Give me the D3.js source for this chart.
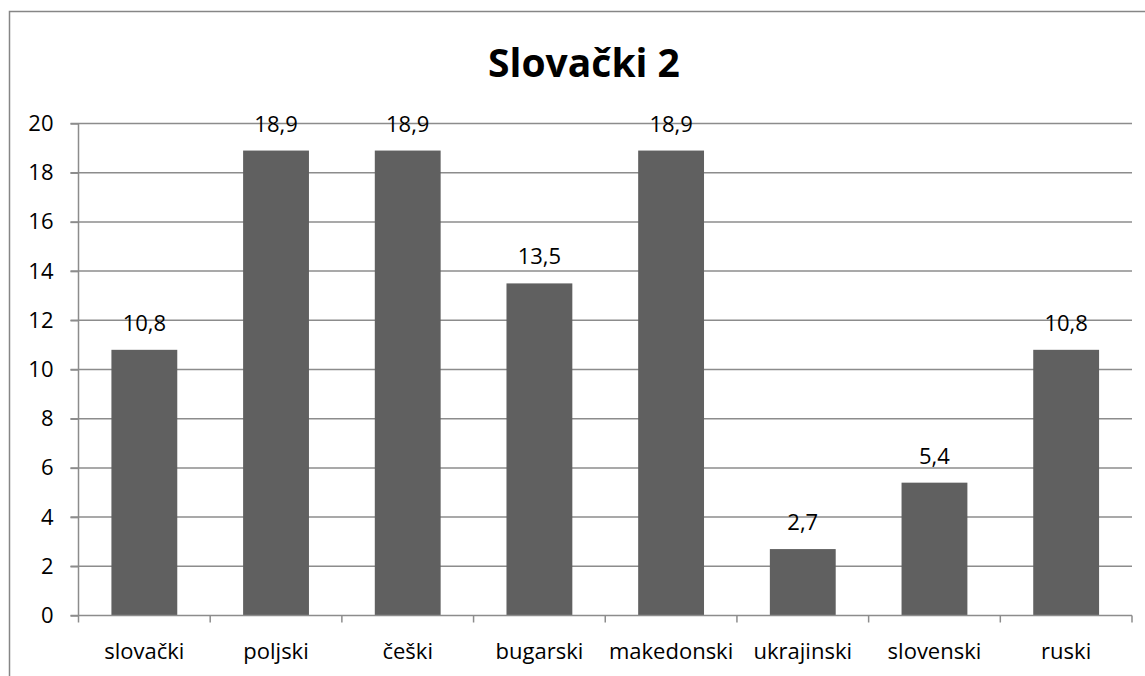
<!DOCTYPE html>
<html>
<head>
<meta charset="utf-8">
<script src="https://cdn.jsdelivr.net/npm/d3@7"></script>
<style>
  body { margin: 0; background: #fff; }
  text { font-family: "Open Sans", "Noto Sans", sans-serif; fill: #000; }
</style>
</head>
<body>
<svg width="1145" height="676"></svg>
<script>
var categories = ["slovački", "poljski", "češki", "bugarski", "makedonski", "ukrajinski", "slovenski", "ruski"];
var values = [10.8, 18.9, 18.9, 13.5, 18.9, 2.7, 5.4, 10.8];
var yTicks = [0, 2, 4, 6, 8, 10, 12, 14, 16, 18, 20];
var title = "Slovački 2";

var svg = d3.select("svg"),
    margin = {top: 123.5, right: 13, bottom: 60.5, left: 78.5},
    width = +svg.attr("width") - margin.left - margin.right,
    height = +svg.attr("height") - margin.top - margin.bottom;

// chart frame (right and bottom edges fall outside the picture)
svg.append("rect")
    .attr("x", 9.5).attr("y", 11.5)
    .attr("width", 1200).attr("height", 700)
    .attr("fill", "none")
    .attr("stroke", "#868686")
    .attr("stroke-width", 1.5);

svg.append("text")
    .attr("x", 584).attr("y", 77)
    .attr("text-anchor", "middle")
    .style("font-size", "39px")
    .style("font-weight", "bold")
    .text(title);

var g = svg.append("g").attr("transform", "translate(" + margin.left + "," + margin.top + ")");

var x = d3.scaleBand()
    .domain(categories)
    .range([0, width])
    .paddingInner(0.5)
    .paddingOuter(0.25);

var xb = d3.scaleBand().domain(categories).range([0, width]);

var y = d3.scaleLinear()
    .domain([0, 20])
    .range([height, 0]);

// gridlines
g.selectAll(".grid")
  .data(yTicks.slice(1))
  .enter().append("line")
    .attr("class", "grid")
    .attr("x1", -8).attr("x2", width)
    .attr("y1", function(d) { return y(d); })
    .attr("y2", function(d) { return y(d); })
    .attr("stroke", "#8c8c8c")
    .attr("stroke-width", 1.5);

g.selectAll(".bar")
  .data(values)
  .enter().append("rect")
    .attr("class", "bar")
    .attr("x", function(d, i) { return x(categories[i]); })
    .attr("y", function(d) { return y(d); })
    .attr("width", x.bandwidth())
    .attr("height", function(d) { return height - y(d); })
    .attr("fill", "#606060");

g.selectAll(".val")
  .data(values)
  .enter().append("text")
    .attr("class", "val")
    .attr("x", function(d, i) { return x(categories[i]) + x.bandwidth() / 2; })
    .attr("y", function(d) { return y(d) - 19; })
    .attr("text-anchor", "middle")
    .style("font-size", "22px")
    .text(function(d) { return String(d).replace(".", ","); });

// y axis
var yAxis = g.append("g")
    .call(d3.axisLeft(y).tickValues(yTicks).tickSize(8).tickPadding(17).tickFormat(d3.format("d")));
yAxis.select(".domain").attr("stroke", "#8c8c8c").attr("stroke-width", 1.5).attr("d", "M0," + height + "V0");
yAxis.selectAll(".tick line").attr("stroke", "#8c8c8c").attr("stroke-width", 1.5);
yAxis.selectAll("text").style("font-size", "22px").attr("fill", "#000")
    .style("font-family", "'Open Sans', 'Noto Sans', sans-serif");

// x axis with ticks at band boundaries
var xAxis = g.append("g").attr("transform", "translate(0," + height + ")");
xAxis.append("line")
    .attr("x1", -8).attr("x2", width)
    .attr("stroke", "#8c8c8c").attr("stroke-width", 1.5);
xAxis.selectAll(".xt")
  .data(categories)
  .enter().append("line")
    .attr("class", "xt")
    .attr("x1", function(d) { return xb(d) + xb.bandwidth(); })
    .attr("x2", function(d) { return xb(d) + xb.bandwidth(); })
    .attr("y1", 0).attr("y2", 7)
    .attr("stroke", "#8c8c8c").attr("stroke-width", 1.5);
xAxis.append("line")
    .attr("x1", 0).attr("x2", 0).attr("y1", 0).attr("y2", 7)
    .attr("stroke", "#8c8c8c").attr("stroke-width", 1.5);
xAxis.selectAll(".xl")
  .data(categories)
  .enter().append("text")
    .attr("class", "xl")
    .attr("x", function(d) { return xb(d) + xb.bandwidth() / 2; })
    .attr("y", 43)
    .attr("text-anchor", "middle")
    .style("font-size", "22px")
    .text(function(d) { return d; });
</script>
</body>
</html>
